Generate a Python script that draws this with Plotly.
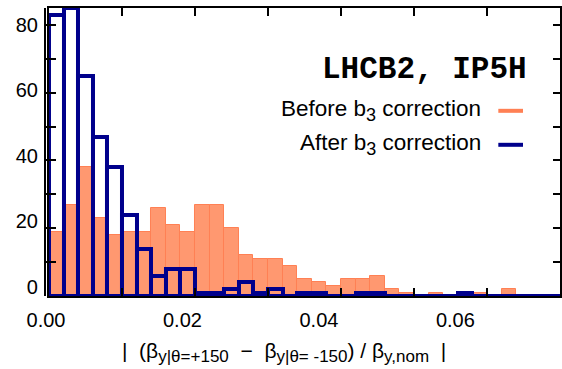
import numpy as np
import plotly.graph_objects as go

# Histogram of |(beta_y(+150) - beta_y(-150)) / beta_y,nom| for LHCB2, IP5H
BIN_WIDTH = 0.002
before_b3 = [19, 27, 38, 23, 18, 19, 19, 26, 21, 19, 27, 27, 20, 12, 11, 11, 9, 5,
             4, 3, 5, 5, 6, 2, 1, 0, 1, 0, 0, 1, 0, 2, 0, 0, 0]
after_b3 = [83, 85, 65, 47, 38, 24, 14, 6, 8, 8, 1, 1, 2, 4, 1, 2, 0, 1,
            1, 0, 0, 1, 1, 0, 0, 0, 0, 0, 1, 0, 0, 0, 0, 0, 0]
x_ticks = [0.00, 0.02, 0.04, 0.06]
x_tick_text = ["0.00", "0.02", "0.04", "0.06"]
y_ticks = [0, 20, 40, 60, 80]

ORANGE_FILL = "rgb(255,152,112)"
ORANGE_EDGE = "rgb(255,128,84)"
NAVY = "rgb(0,0,140)"
FONT = "Liberation Sans, Arial, Helvetica, sans-serif"


def sub(s, px):
    return f"<sub><span style='font-size:{px}px'>{s}</span></sub>"


centers = (np.arange(len(before_b3)) + 0.5) * BIN_WIDTH

fig = go.Figure()
fig.add_trace(go.Bar(
    x=centers, y=before_b3, width=BIN_WIDTH,
    marker=dict(color=ORANGE_FILL, line=dict(color=ORANGE_EDGE, width=1)),
    showlegend=False,
))
fig.add_trace(go.Bar(
    x=centers, y=after_b3, width=BIN_WIDTH,
    marker=dict(color="rgba(0,0,0,0)", line=dict(color=NAVY, width=4)),
    showlegend=False,
))
# empty traces so the label-only axes are laid out
fig.add_trace(go.Scatter(x=[], y=[], xaxis="x2", yaxis="y", showlegend=False))
fig.add_trace(go.Scatter(x=[], y=[], xaxis="x", yaxis="y2", showlegend=False))

frame = dict(
    showline=True, linecolor="black", linewidth=1.5, mirror="allticks",
    ticks="inside", tickcolor="black", tickwidth=1.5,
    showgrid=False, zeroline=False,
)
label_font = dict(family=FONT, size=20, color="black")

PLOT_W = 516          # plot-area width in px (margin l=46, r=0)
X_OFF = 3 / PLOT_W    # data axis starts 3 px right of the label axis

fig.update_layout(
    xaxis=dict(domain=[X_OFF, 1], range=[0, 0.07], anchor="y",
               tickvals=x_ticks, ticklen=8, showticklabels=False,
               minor=dict(dtick=0.01, ticks="inside", ticklen=4,
                          tickcolor="black", tickwidth=1.5),
               **frame),
    yaxis=dict(domain=[0, 1], range=[0, 85], anchor="x",
               tickvals=y_ticks, ticklen=7, showticklabels=False,
               minor=dict(dtick=10, ticks="inside", ticklen=7,
                          tickcolor="black", tickwidth=1.5),
               **frame),
    # tick-label axes
    xaxis2=dict(domain=[0, 1], range=[0, 0.07533], anchor="y",
                tickvals=x_ticks, ticktext=x_tick_text, ticks="",
                showline=False, showgrid=False, zeroline=False,
                tickfont=label_font, ticklabelstandoff=10),
    yaxis2=dict(overlaying="y", anchor="x", side="left", range=[-2.9, 85.2],
                tickvals=y_ticks, ticks="", showline=False, showgrid=False,
                zeroline=False, tickfont=label_font, ticklabelstandoff=10),
)

# axis title
fig.add_annotation(
    xref="paper", yref="paper", x=0.463, y=-0.196, xanchor="center", yanchor="middle",
    text="|\u00a0\u00a0(β" + sub("y|θ=+150", 17) + "\u00a0\u00a0−\u00a0\u00a0β"
         + sub("y|θ=\u00a0-150", 17) + ")\u00a0/\u00a0β" + sub("y,nom", 17) + "\u00a0\u00a0|",
    showarrow=False, font=dict(family=FONT, size=21, color="black"),
)

# plot label and key
fig.add_annotation(
    xref="paper", yref="paper", x=0.94, y=0.785, xanchor="right", yanchor="middle",
    text="<b>LHCB2, IP5H</b>", showarrow=False,
    font=dict(family="Liberation Mono, Courier New, monospace", size=31, color="black"),
)
legend_rows = [("Before b" + sub("3", 18) + " correction", ORANGE_EDGE, 0.643),
               ("After b" + sub("3", 18) + " correction", NAVY, 0.525)]
for label, color, yp in legend_rows:
    fig.add_annotation(
        xref="paper", yref="paper", x=0.85, y=yp, xanchor="right", yanchor="middle",
        text=label, showarrow=False,
        font=dict(family=FONT, size=22.5, color="black"),
    )
    fig.add_shape(type="line", xref="paper", yref="paper",
                  x0=0.88, x1=0.928, y0=yp, y1=yp,
                  line=dict(color=color, width=4))

fig.update_layout(
    width=562, height=369,
    margin=dict(l=46, r=0, t=8, b=73),
    barmode="overlay", bargap=0,
    plot_bgcolor="rgba(0,0,0,0)", paper_bgcolor="white",
)

fig.write_html("out.html")
